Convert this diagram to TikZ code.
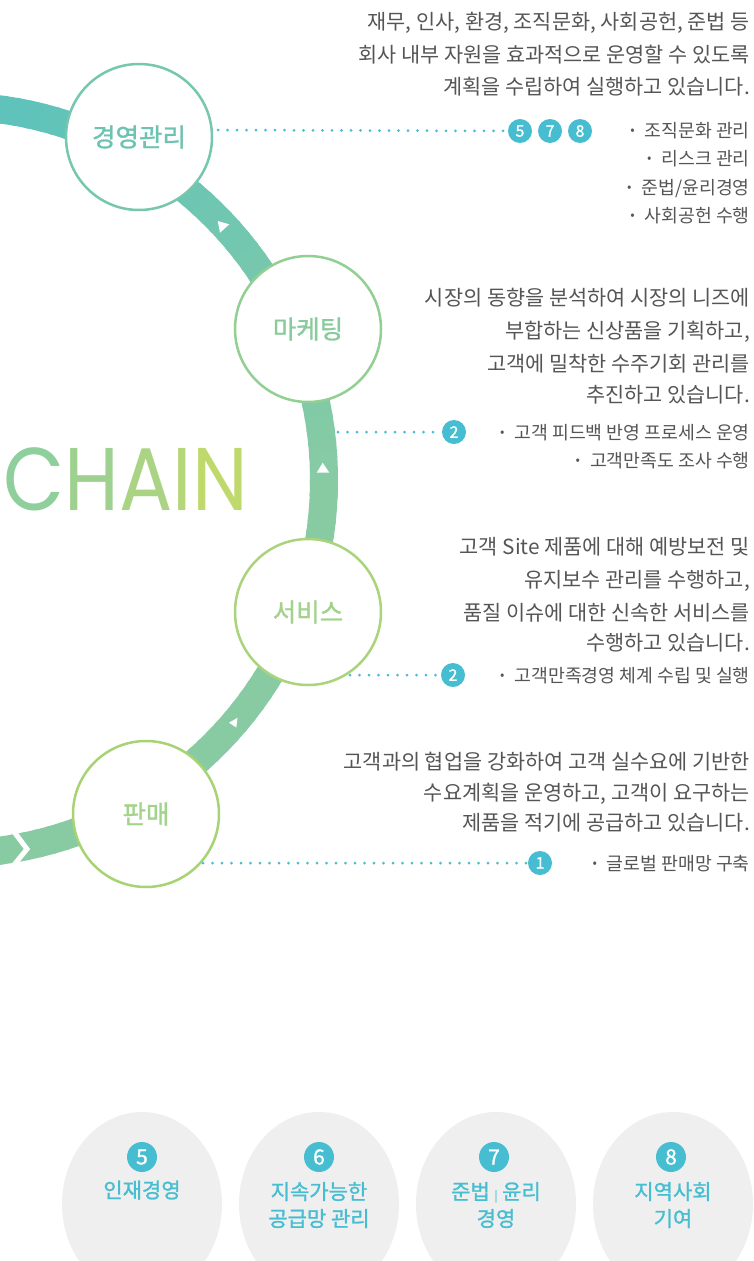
\documentclass[tikz,border=0pt]{standalone}
\usepackage{fontspec}
\setmainfont{Noto Sans CJK KR}
\newfontfamily\krb{Noto Sans CJK KR}[FakeBold=1.2]
\newfontfamily\chainfont{Poppins}
\usetikzlibrary{shapes.geometric,calc}
\definecolor{bandA}{HTML}{5FC3BB}
\definecolor{bandB}{HTML}{88CBA3}
\definecolor{txt}{HTML}{555555}
\definecolor{cy}{HTML}{46BDD0}
\definecolor{egray}{HTML}{EFEFEF}
\definecolor{cA}{HTML}{76C7AD}
\definecolor{cAt}{HTML}{6CC3B1}
\definecolor{cB}{HTML}{92CF92}
\definecolor{cBt}{HTML}{8ACB9E}
\definecolor{cC}{HTML}{AAD47C}
\definecolor{cCt}{HTML}{A2D28B}
\definecolor{cD}{HTML}{A8D374}
\definecolor{cDt}{HTML}{A3D28A}
\definecolor{ch1}{HTML}{8ECF9B}
\definecolor{ch2}{HTML}{9ED190}
\definecolor{ch3}{HTML}{AAD484}
\definecolor{ch4}{HTML}{B6D779}
\definecolor{ch5}{HTML}{C0D96C}
\newcommand\mybul{\raisebox{2.5pt}{\fontsize{13}{13}\selectfont •}\hspace{10pt}}
\begin{document}
\begin{tikzpicture}[x=1pt,y=-1pt,
  stage/.style={circle, draw=#1, line width=2.5pt, fill=white, minimum size=146pt, inner sep=0pt, font=\krb\fontsize{25.5}{25.5}\selectfont},
  para/.style={anchor=base east, inner sep=0pt, text=txt, font=\fontsize{20.8}{20.8}\selectfont},
  bull/.style={anchor=base east, inner sep=0pt, text=txt, font=\fontsize{18.3}{18.3}\selectfont},
  badge/.style={circle, fill=cy, text=white, minimum size=24pt, inner sep=0pt, font=\krb\fontsize{16}{16}\selectfont},
  dotline/.style={cy, line width=3pt, line cap=round, dash pattern=on 0pt off 9.5pt},
  egg/.style={ellipse, fill=egray, minimum width=160pt, minimum height=184pt, inner sep=0pt},
  bigbadge/.style={circle, fill=cy, text=white, minimum size=30pt, inner sep=0pt, font=\krb\fontsize{21}{21}\selectfont},
  elab/.style={text=cy, align=center, inner sep=0pt, font=\krb\fontsize{21}{27}\selectfont},
  arrowtri/.style={fill=white}
]
\useasboundingbox (0,0) rectangle (753,1261);
\fill[white] (0,0) rectangle (753,1261);
% band
\begin{scope}
\clip (0,0) rectangle (753,1261);
\foreach \a in {-100,-98,...,100} {
  \pgfmathsetmacro\p{max(0,min(100,(\a+80)*1.25))}
  \draw[line width=28pt, color=bandB!\p!bandA] ([shift={(\a:374)}]-50,480) arc[start angle=\a, end angle=\a+2.6, radius=374];
}
\draw[white, line width=5pt, line join=miter] (12,829) -- (27,849) -- (9,871);
\end{scope}
% arrow triangles
\fill[arrowtri] (217.7,221) -- (229.3,224.3) -- (220,232.7) -- cycle;
\fill[arrowtri] (316.7,472.7) -- (329.3,472.7) -- (322.7,462.7) -- cycle;
\fill[arrowtri] (229,722.7) -- (237.5,717.8) -- (236.3,727.5) -- cycle;
% CHAIN
\node[anchor=base west, inner sep=0pt] (chain) at (3,510) {\chainfont\fontsize{89}{89}\selectfont\scalebox{0.89}[1]{\textcolor{ch1}{C}\textcolor{ch2}{H}\textcolor{ch3}{A}\textcolor{ch4}{I}\textcolor{ch5}{N}}};
% stages
\node[stage=cA, text=cAt] (gm) at (139,137) {경영관리};
\node[stage=cB, text=cBt] (mk) at (308,329) {마케팅};
\node[stage=cC, text=cCt] (sv) at (308,612) {서비스};
\node[stage=cD, text=cDt] (sl) at (146,814) {판매};
% paragraph 1
\node[para] (p1a) at (750,29) {재무, 인사, 환경, 조직문화, 사회공헌, 준법 등};
\node[para] (p1b) at (750,62) {회사 내부 자원을 효과적으로 운영할 수 있도록};
\node[para] (p1c) at (750,94) {계획을 수립하여 실행하고 있습니다.};
\coordinate (d1) at (218,130);
\node[badge] (n5) at (520,131) {5};
\node[badge] (n7) at (550,131) {7};
\node[badge] (n8) at (580,131) {8};
\draw[dotline] (d1) -- (n5.west);
\node[bull] (b1a) at (750,137) {\mybul 조직문화 관리};
\node[bull] (b1b) at (750,165) {\mybul 리스크 관리};
\node[bull] (b1c) at (750,194) {\mybul 준법/윤리경영};
\node[bull] (b1d) at (750,222) {\mybul 사회공헌 수행};
% paragraph 2
\node[para] (p2a) at (750,305) {시장의 동향을 분석하여 시장의 니즈에};
\node[para] (p2b) at (750,338) {부합하는 신상품을 기획하고,};
\node[para] (p2c) at (750,371) {고객에 밀착한 수주기회 관리를};
\node[para] (p2d) at (750,402) {추진하고 있습니다.};
\coordinate (d2) at (338,432);
\node[badge] (m2) at (454,432) {2};
\draw[dotline] (d2) -- (m2.west);
\node[bull] (b2a) at (750,439) {\mybul 고객 피드백 반영 프로세스 운영};
\node[bull] (b2b) at (750,467) {\mybul 고객만족도 조사 수행};
% paragraph 3
\node[para] (p3a) at (750,554) {고객 Site 제품에 대해 예방보전 및};
\node[para] (p3b) at (750,587) {유지보수 관리를 수행하고,};
\node[para] (p3c) at (750,620) {품질 이슈에 대한 신속한 서비스를};
\node[para] (p3d) at (750,650) {수행하고 있습니다.};
\coordinate (d3) at (350,675);
\node[badge] (s2) at (453,675) {2};
\draw[dotline] (d3) -- (s2.west);
\node[bull] (b3a) at (750,682) {\mybul 고객만족경영 체계 수립 및 실행};
% paragraph 4
\node[para] (p4a) at (750,769) {고객과의 협업을 강화하여 고객 실수요에 기반한};
\node[para] (p4b) at (750,800) {수요계획을 운영하고, 고객이 요구하는};
\node[para] (p4c) at (750,830) {제품을 적기에 공급하고 있습니다.};
\coordinate (d4) at (203,863);
\node[badge] (t1) at (540,863) {1};
\draw[dotline] (d4) -- (t1.west);
\node[bull] (b4a) at (750,870) {\mybul 글로벌 판매망 구축};
% bottom ellipses
\node[egg] (e5) at (142,1204) {};
\node[egg] (e6) at (319,1204) {};
\node[egg] (e7) at (496,1204) {};
\node[egg] (e8) at (673,1204) {};
\node[bigbadge] (k5) at (142,1157) {5};
\node[bigbadge] (k6) at (319,1157) {6};
\node[bigbadge] (k7) at (494,1157) {7};
\node[bigbadge] (k8) at (671,1157) {8};
\node[elab] (l5) at (142,1190) {인재경영};
\node[elab] (l6) at (319,1205) {지속가능한\\공급망 관리};
\node[elab] (l7) at (496,1205) {준법 {\fontsize{11}{11}\selectfont |} 윤리\\경영};
\node[elab] (l8) at (673,1205) {지역사회\\기여};
\end{tikzpicture}
\end{document}
